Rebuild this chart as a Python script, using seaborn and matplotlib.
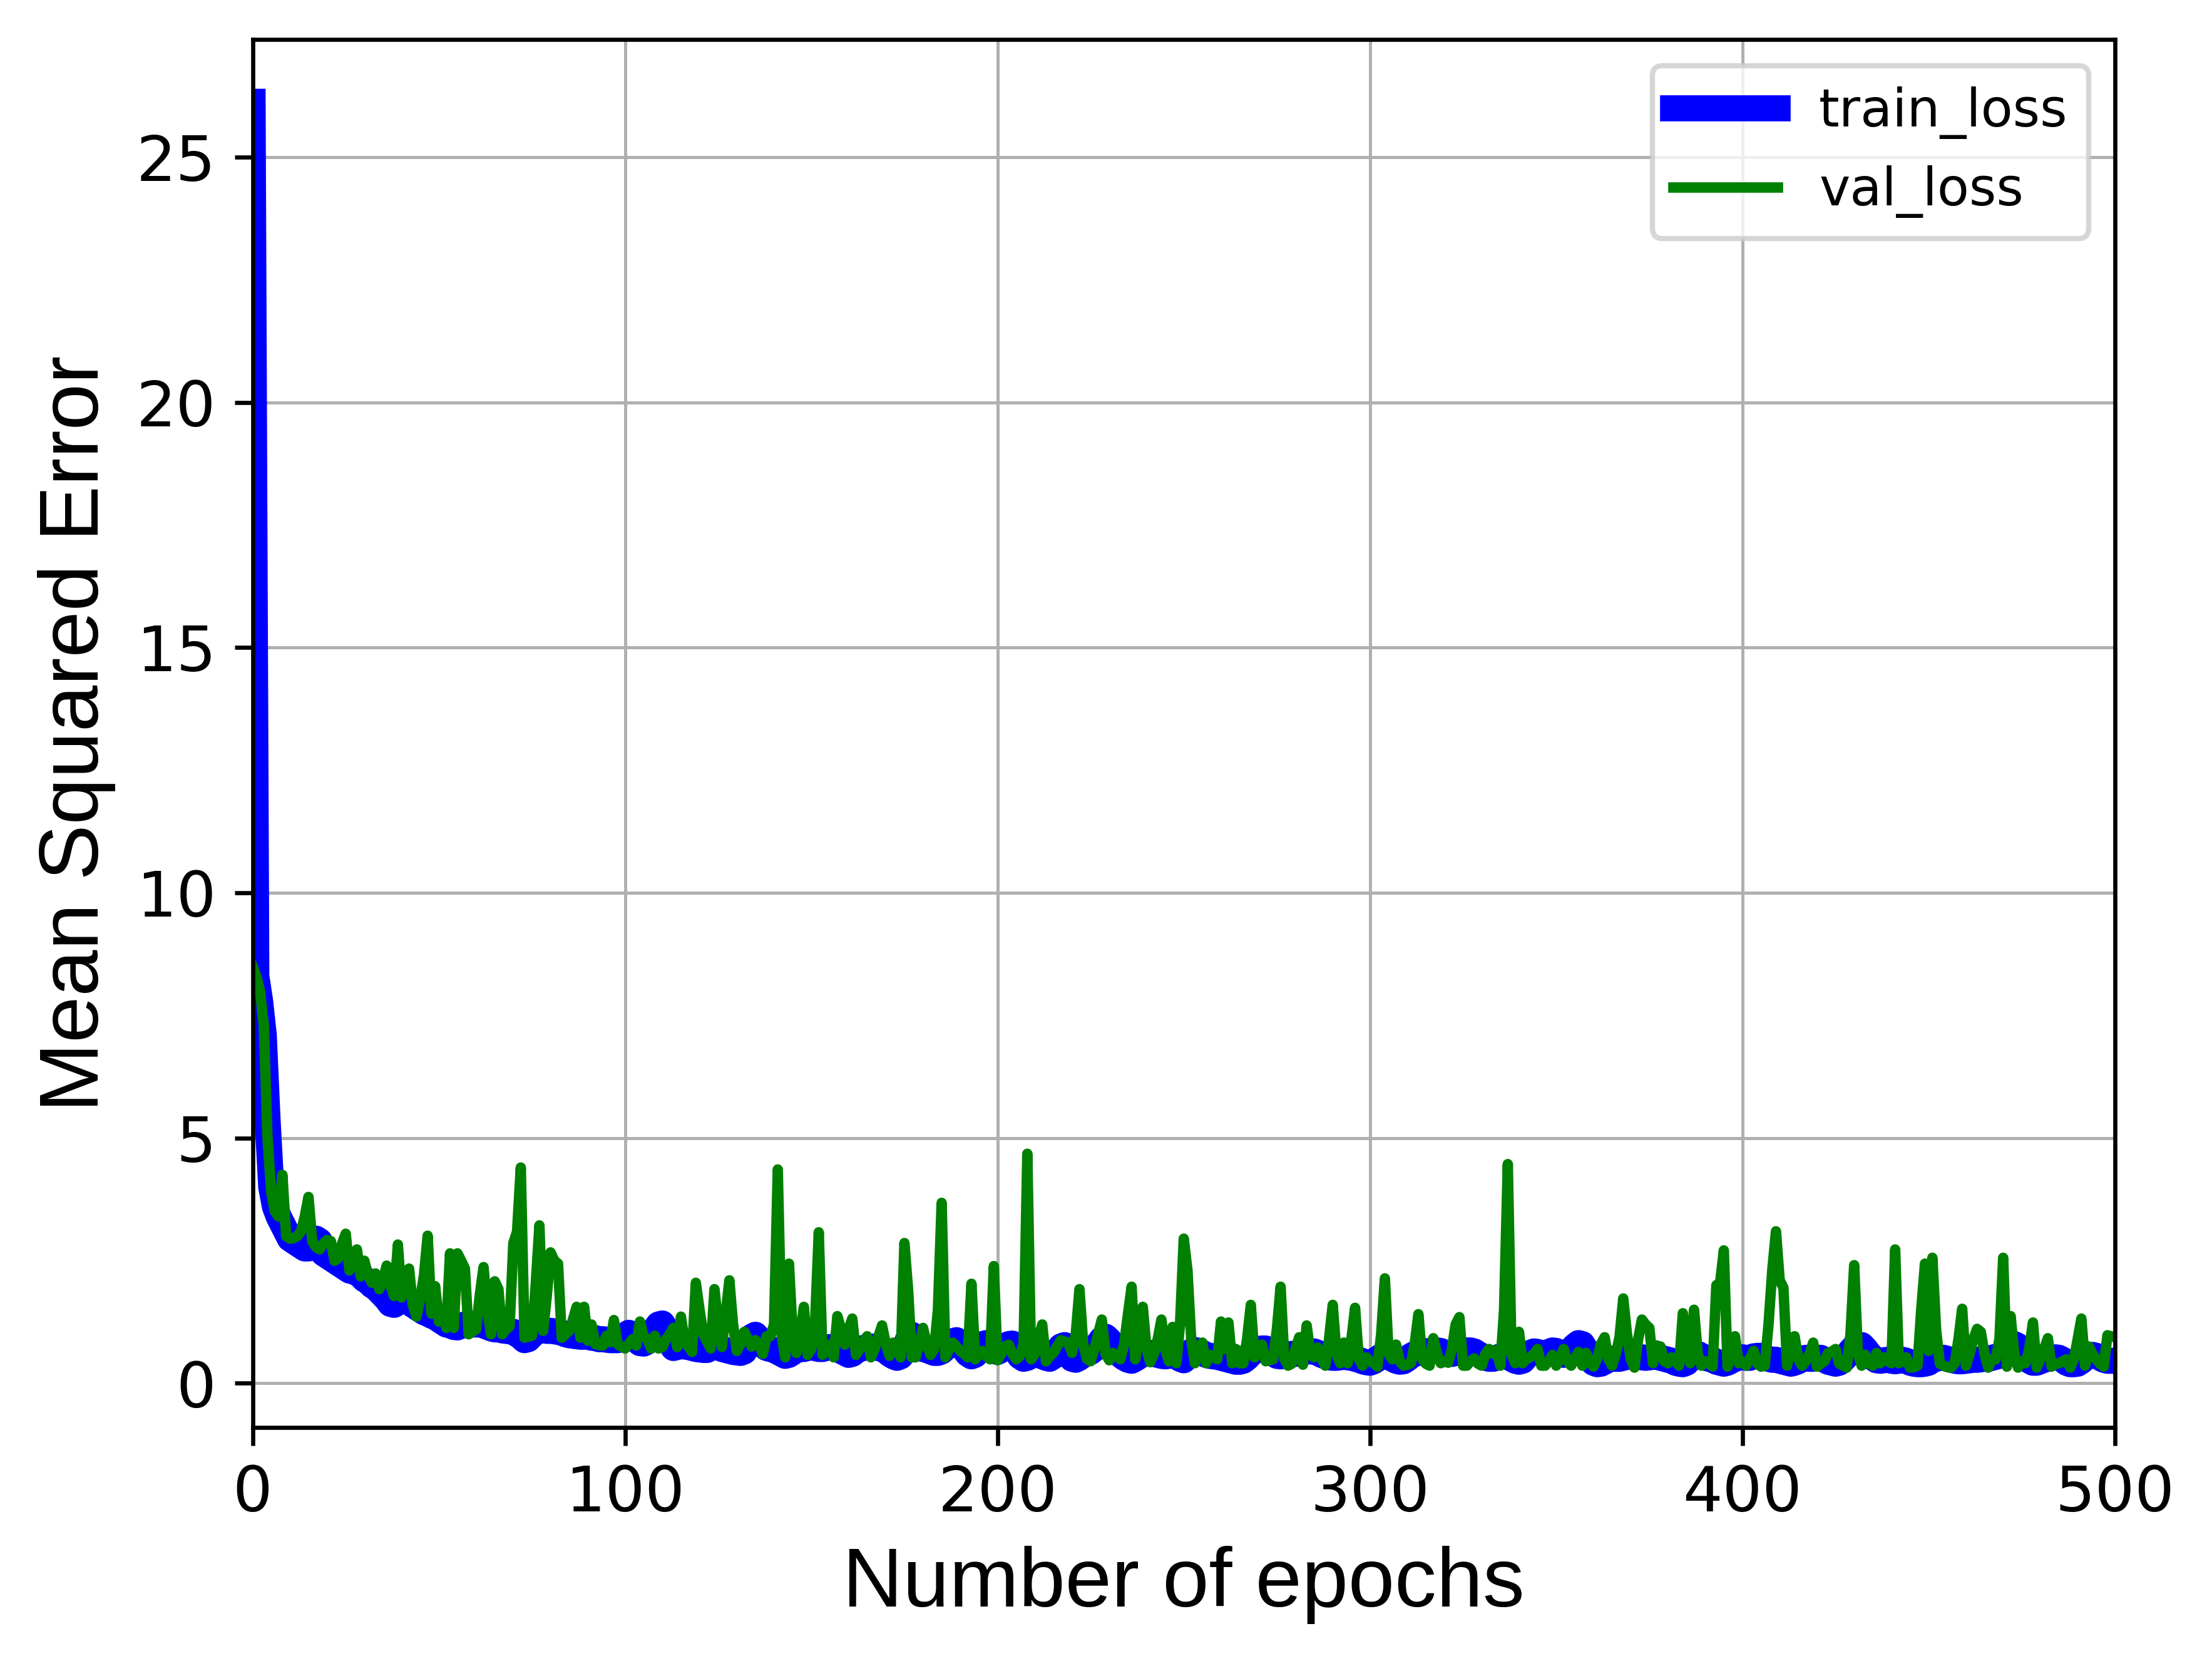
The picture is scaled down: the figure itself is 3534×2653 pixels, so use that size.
import numpy as np
import pandas as pd
import matplotlib
matplotlib.use("Agg")
import matplotlib.pyplot as plt
import seaborn as sns

# loss history, one value per epoch (0..499)
epochs = list(range(500))

train_loss = [
    26.13, 8.3, 7.8, 7.1, 5.4, 4.0, 3.6, 3.4, 3.25, 3.1,
    2.95, 2.9, 2.85, 2.8, 2.75, 2.75, 2.8, 2.95, 2.9, 2.65,
    2.6, 2.55, 2.5, 2.45, 2.4, 2.35, 2.3, 2.28, 2.25, 2.2,
    2.12, 2.08, 2.0, 1.95, 1.88, 1.8, 1.72, 1.62, 1.6, 1.65,
    1.7, 1.68, 1.65, 1.6, 1.55, 1.5, 1.45, 1.42, 1.38, 1.35,
    1.3, 1.25, 1.2, 1.18, 1.15, 1.14, 1.18, 1.2, 1.22, 1.2,
    1.2, 1.2, 1.18, 1.15, 1.12, 1.1, 1.1, 1.08, 1.07, 1.06,
    1.05, 1.0, 0.95, 0.88, 0.9, 0.98, 1.05, 1.07, 1.08, 1.07,
    1.07, 1.06, 1.05, 1.03, 1.0, 0.98, 0.97, 0.96, 0.95, 0.95,
    0.95, 0.93, 0.92, 0.9, 0.9, 0.89, 0.88, 0.88, 0.88, 0.9,
    0.98, 1.03, 0.98, 0.88, 0.82, 0.81, 0.85, 0.95, 1.1, 1.2,
    1.22, 1.1, 0.85, 0.72, 0.74, 0.76, 0.75, 0.74, 0.72, 0.7,
    0.69, 0.68, 0.68, 0.72, 0.8, 0.75, 0.7, 0.68, 0.66, 0.64,
    0.63, 0.62, 0.65, 0.8, 0.95, 0.99, 0.9, 0.78, 0.72, 0.7,
    0.68, 0.64, 0.6, 0.56, 0.58, 0.63, 0.68, 0.7, 0.7, 0.72,
    0.73, 0.72, 0.7, 0.7, 0.72, 0.74, 0.72, 0.7, 0.66, 0.62,
    0.58, 0.6, 0.66, 0.7, 0.72, 0.74, 0.75, 0.74, 0.72, 0.7,
    0.66, 0.6, 0.55, 0.52, 0.55, 0.7, 0.9, 0.99, 0.9, 0.75,
    0.7, 0.68, 0.65, 0.62, 0.62, 0.65, 0.72, 0.8, 0.86, 0.88,
    0.82, 0.7, 0.6, 0.55, 0.58, 0.68, 0.8, 0.82, 0.75, 0.66,
    0.64, 0.68, 0.75, 0.8, 0.81, 0.7, 0.55, 0.5, 0.52, 0.56,
    0.6, 0.58, 0.55, 0.52, 0.5, 0.55, 0.65, 0.75, 0.78, 0.7,
    0.5, 0.48, 0.52, 0.58, 0.62, 0.64, 0.7, 0.8, 0.9, 0.95,
    0.88, 0.75, 0.65, 0.58, 0.52, 0.48, 0.46, 0.5, 0.55, 0.6,
    0.62, 0.62, 0.6, 0.58, 0.56, 0.55, 0.56, 0.58, 0.55, 0.5,
    0.47, 0.55, 0.65, 0.68, 0.66, 0.62, 0.58, 0.56, 0.55, 0.54,
    0.52, 0.5, 0.48, 0.46, 0.44, 0.44, 0.46, 0.52, 0.6, 0.66,
    0.7, 0.71, 0.71, 0.68, 0.62, 0.56, 0.55, 0.56, 0.58, 0.6,
    0.6, 0.62, 0.64, 0.65, 0.65, 0.65, 0.62, 0.58, 0.55, 0.53,
    0.52, 0.52, 0.53, 0.54, 0.53, 0.52, 0.5, 0.48, 0.45, 0.43,
    0.42, 0.45, 0.5, 0.55, 0.56, 0.54, 0.5, 0.46, 0.44, 0.45,
    0.5, 0.56, 0.6, 0.62, 0.64, 0.65, 0.66, 0.67, 0.67, 0.66,
    0.62, 0.6, 0.6, 0.62, 0.64, 0.66, 0.67, 0.67, 0.65, 0.6,
    0.56, 0.52, 0.5, 0.5, 0.52, 0.55, 0.56, 0.55, 0.5, 0.46,
    0.44, 0.46, 0.55, 0.62, 0.65, 0.64, 0.6, 0.6, 0.64, 0.67,
    0.66, 0.62, 0.58, 0.6, 0.68, 0.76, 0.82, 0.8, 0.68, 0.5,
    0.42, 0.39, 0.4, 0.44, 0.48, 0.5, 0.5, 0.5, 0.52, 0.54,
    0.55, 0.55, 0.54, 0.53, 0.52, 0.53, 0.54, 0.54, 0.52, 0.5,
    0.48, 0.46, 0.42, 0.4, 0.39, 0.42, 0.5, 0.58, 0.6, 0.56,
    0.52, 0.5, 0.48, 0.44, 0.42, 0.4, 0.42, 0.46, 0.5, 0.52,
    0.53, 0.52, 0.52, 0.55, 0.56, 0.56, 0.53, 0.5, 0.48, 0.48,
    0.46, 0.44, 0.42, 0.4, 0.42, 0.45, 0.5, 0.52, 0.5, 0.5,
    0.52, 0.52, 0.48, 0.44, 0.42, 0.4, 0.42, 0.48, 0.56, 0.66,
    0.74, 0.78, 0.78, 0.7, 0.6, 0.52, 0.47, 0.46, 0.47, 0.48,
    0.46, 0.45, 0.46, 0.48, 0.46, 0.42, 0.4, 0.39, 0.39, 0.4,
    0.42, 0.48, 0.5, 0.52, 0.52, 0.5, 0.48, 0.46, 0.45, 0.45,
    0.46, 0.47, 0.48, 0.48, 0.49, 0.5, 0.5, 0.52, 0.54, 0.56,
    0.6, 0.68, 0.76, 0.8, 0.76, 0.66, 0.55, 0.46, 0.42, 0.42,
    0.45, 0.48, 0.5, 0.52, 0.53, 0.52, 0.48, 0.42, 0.39, 0.39,
    0.4, 0.45, 0.52, 0.56, 0.58, 0.56, 0.52, 0.48, 0.46, 0.46,
]

val_loss = [
    8.5, 8.3, 8.0, 7.3, 5.0, 3.9, 3.5, 3.4, 4.25, 3.0,
    2.95, 2.96, 3.0, 3.1, 3.4, 3.8, 2.9, 2.78, 2.73, 2.85,
    2.92, 2.9, 2.5, 2.55, 2.85, 3.05, 2.3, 2.5, 2.73, 2.18,
    2.5, 2.2, 2.05, 2.24, 1.92, 2.1, 2.4, 2.0, 1.78, 2.83,
    1.75, 2.0, 2.34, 1.6, 1.36, 1.72, 2.2, 3.01, 1.42, 1.98,
    1.26, 1.42, 1.13, 2.65, 1.13, 2.65, 2.5, 2.34, 1.0, 1.05,
    1.1, 1.8, 2.37, 1.5, 1.0, 2.08, 1.92, 1.0, 1.1, 1.16,
    2.86, 3.09, 4.4, 0.93, 0.95, 0.97, 2.0, 3.22, 1.07, 1.8,
    2.67, 2.5, 2.44, 0.93, 1.0, 1.07, 1.3, 1.56, 0.93, 1.56,
    0.87, 1.2, 0.8, 0.78, 0.77, 0.97, 0.84, 1.29, 0.8, 0.75,
    0.71, 0.8, 0.9, 0.77, 1.26, 0.95, 0.9, 0.71, 0.97, 0.71,
    0.74, 0.9, 1.0, 1.13, 0.74, 1.36, 0.84, 0.75, 0.64, 2.05,
    1.5, 1.0, 0.85, 0.71, 1.92, 1.2, 0.74, 1.4, 2.1, 1.2,
    0.66, 0.8, 1.05, 0.9, 0.75, 0.88, 0.8, 0.6, 0.96, 0.96,
    1.2, 4.36, 1.0, 0.53, 2.44, 1.0, 0.62, 1.0, 1.56, 0.58,
    0.7, 1.2, 3.08, 0.58, 0.7, 0.79, 0.53, 1.37, 1.1, 0.79,
    1.1, 1.32, 0.58, 0.7, 0.85, 0.96, 0.53, 0.7, 0.95, 1.18,
    0.8, 0.56, 0.83, 0.7, 0.53, 2.86, 1.9, 0.53, 0.53, 0.8,
    1.13, 0.8, 0.58, 0.7, 1.5, 3.68, 0.53, 0.7, 0.83, 0.75,
    0.66, 0.6, 0.53, 2.03, 0.49, 0.6, 0.66, 0.55, 0.49, 2.39,
    0.47, 0.6, 0.75, 0.79, 0.6, 0.49, 0.55, 0.8, 4.68, 0.49,
    0.6, 0.9, 1.2, 0.45, 0.55, 0.62, 0.75, 0.88, 0.85, 0.83,
    0.62, 1.0, 1.92, 0.8, 0.5, 0.45, 0.7, 1.0, 1.3, 0.6,
    0.47, 0.62, 0.55, 0.49, 0.8, 1.4, 1.97, 0.49, 1.0, 1.56,
    0.7, 0.43, 0.6, 0.9, 1.3, 0.7, 0.45, 1.15, 0.41, 1.2,
    2.95, 2.3, 0.9, 0.41, 0.7, 0.83, 0.41, 0.58, 0.53, 0.49,
    1.26, 0.7, 1.24, 0.41, 0.7, 0.41, 0.41, 0.9, 1.6, 0.53,
    0.7, 0.79, 0.45, 0.47, 0.49, 1.1, 1.97, 0.5, 0.36, 0.4,
    0.7, 0.94, 0.38, 1.18, 0.6, 0.53, 0.73, 0.5, 0.36, 0.9,
    1.6, 0.6, 0.41, 0.83, 0.41, 0.9, 1.54, 0.5, 0.36, 0.53,
    0.45, 0.41, 0.34, 1.0, 2.14, 0.6, 0.49, 0.79, 0.45, 0.36,
    0.38, 0.41, 0.8, 1.41, 0.5, 0.4, 0.36, 0.92, 0.6, 0.41,
    0.45, 0.42, 0.7, 1.2, 1.35, 0.36, 0.36, 0.45, 0.51, 0.4,
    0.36, 0.6, 0.7, 0.6, 0.68, 0.36, 1.5, 4.47, 0.6, 0.41,
    1.05, 0.41, 0.5, 0.53, 0.6, 0.7, 0.36, 0.36, 0.45, 0.58,
    0.36, 0.5, 0.7, 0.45, 0.36, 0.5, 0.64, 0.36, 0.62, 0.45,
    0.34, 0.5, 0.8, 0.94, 0.5, 0.36, 0.6, 0.94, 1.73, 1.0,
    0.5, 0.32, 0.9, 1.3, 1.2, 1.13, 0.41, 0.77, 0.75, 0.45,
    0.41, 0.53, 0.45, 0.36, 1.43, 0.6, 0.41, 1.5, 0.6, 0.36,
    0.45, 0.41, 0.34, 2.0, 2.05, 2.71, 0.34, 0.6, 0.96, 0.41,
    0.45, 0.36, 0.5, 0.66, 0.4, 0.34, 0.36, 1.2, 2.3, 3.1,
    2.1, 1.95, 0.36, 0.8, 0.96, 0.5, 0.36, 0.45, 0.6, 0.83,
    0.34, 0.4, 0.45, 0.62, 0.65, 0.7, 0.4, 0.36, 0.32, 1.0,
    2.41, 0.6, 0.36, 0.58, 0.4, 0.36, 0.62, 0.41, 0.53, 0.45,
    0.41, 2.73, 0.41, 0.45, 0.53, 0.32, 0.33, 0.36, 1.5, 2.44,
    0.66, 2.56, 1.09, 0.4, 0.36, 0.33, 0.32, 0.41, 0.9, 1.52,
    0.36, 0.6, 0.9, 1.11, 1.05, 0.6, 0.32, 0.49, 0.49, 0.9,
    2.56, 0.34, 1.37, 0.6, 0.32, 0.45, 0.41, 0.7, 1.24, 0.32,
    0.5, 0.7, 0.92, 0.34, 0.4, 0.41, 0.45, 0.49, 0.32, 0.49,
    0.9, 1.32, 0.36, 0.75, 0.6, 0.49, 0.4, 0.34, 0.98, 0.96,
]

sns.set_style("ticks", {
    "axes.edgecolor": "black",
    "axes.labelcolor": "black",
    "text.color": "black",
    "xtick.color": "black",
    "ytick.color": "black",
})
plt.rcParams["font.family"] = ["DejaVu Sans"]

df = pd.DataFrame({"epoch": epochs, "train_loss": train_loss, "val_loss": val_loss})

fig = plt.figure(figsize=(5.89, 4.4217), dpi=600)
ax = fig.add_axes([0.1142, 0.1406, 0.8419, 0.8356])

sns.lineplot(data=df, x="epoch", y="train_loss", color="blue", linewidth=5,
             label="train_loss", ax=ax, solid_capstyle="projecting")
sns.lineplot(data=df, x="epoch", y="val_loss", color="green", linewidth=2,
             label="val_loss", ax=ax, solid_capstyle="projecting")

ax.set_xlim(0, 500)
ax.set_ylim(-0.9, 27.4)
ax.set_xticks([0, 100, 200, 300, 400, 500])
ax.set_yticks([0, 5, 10, 15, 20, 25])
ax.grid(True, color="#b0b0b0", linewidth=0.6)
ax.set_axisbelow(True)

for sp in ax.spines.values():
    sp.set_linewidth(0.8)
    sp.set_color("black")
ax.tick_params(axis="both", labelsize=12, length=3.5, width=0.8, direction="out")

lab_font = ["Liberation Sans", "Arial", "DejaVu Sans"]
ax.set_xlabel("Number of epochs", fontsize=16, family=lab_font)
ax.set_ylabel("Mean Squared Error", fontsize=16, family=lab_font)

ax.legend(loc="upper right", fontsize=10, frameon=True)

fig.savefig("out.png", dpi=600)
